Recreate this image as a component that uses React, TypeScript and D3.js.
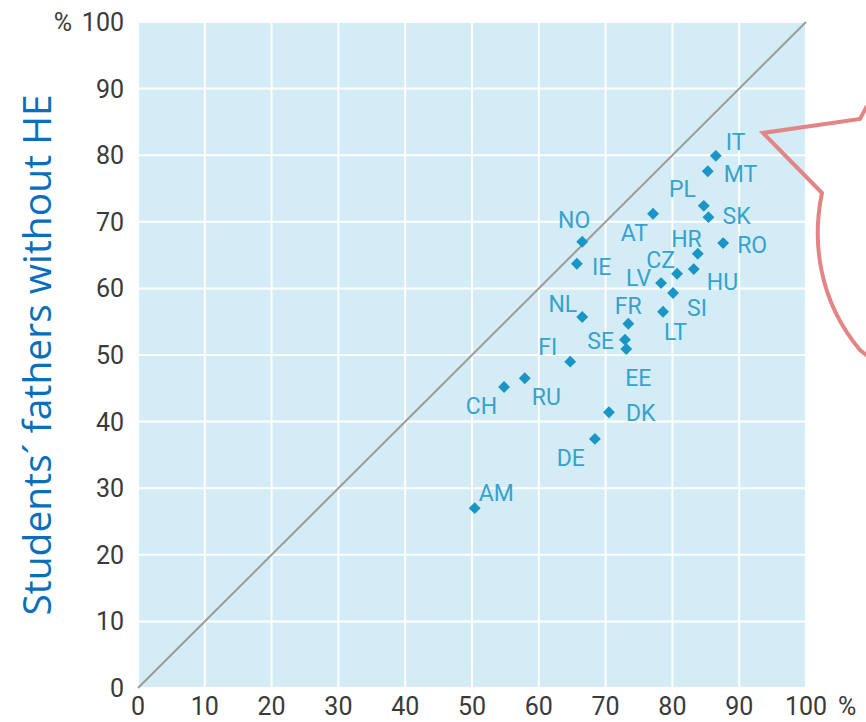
import React from "react";
import * as d3 from "d3";

const countries = ["IT","MT","PL","SK","AT","NO","RO","HR","IE","HU","CZ","LV","SI","LT","NL","FR","SE","EE","FI","RU","CH","DK","DE","AM"];
const xValues = [86.5,85.3,84.7,85.4,77.1,66.5,87.6,83.8,65.7,83.2,80.7,78.3,80.1,78.6,66.5,73.4,72.9,73.1,64.7,57.9,54.8,70.5,68.4,50.4];
const yValues = [79.9,77.6,72.4,70.7,71.2,67.0,66.8,65.2,63.7,62.9,62.2,60.8,59.3,56.5,55.7,54.7,52.3,50.9,49.0,46.5,45.2,41.4,37.4,27.0];
const ticks = [0,10,20,30,40,50,60,70,80,90,100];

// label placement (layout only)
const labelLayout: Record<string, [string, number, number]> = {
  IT: ["start", 10, -6], MT: ["start", 16, 11], PL: ["end", -8, -9], SK: ["start", 14, 7],
  AT: ["end", -5, 27], NO: ["end", 8, -14], RO: ["start", 14, 10], HR: ["end", 4, -7],
  IE: ["start", 15, 11], HU: ["start", 13, 21], CZ: ["end", -2, -6], LV: ["end", -10, 3],
  SI: ["start", 14, 23], LT: ["start", 1, 28], NL: ["end", -5, -5], FR: ["middle", 0, -10],
  SE: ["end", -11, 9], EE: ["start", -1, 37], FI: ["end", -13, -7], RU: ["start", 7, 27],
  CH: ["end", -7, 27], DK: ["start", 17, 9], DE: ["end", -10, 27], AM: ["start", 4, -7],
};

const W = 866, H = 722;
const L = 138, R = 806, T = 22, B = 688;

export default function App() {
  const x = d3.scaleLinear().domain([0, 100]).range([L, R]);
  const y = d3.scaleLinear().domain([0, 100]).range([B, T]);
  const tickFont = "Roboto, sans-serif";
  const diag = d3.line<number>().x((d) => x(d)).y((d) => y(d))([0, 100]) || "";
  const diamond = d3.symbol().type(d3.symbolDiamond2).size(90)() || "";
  const bubble = "M 867 106 L 860 119 L 763 133 L 822 193 C 812 240, 818 300, 860 350 L 870 358";
  return (
    <svg width={W} height={H} style={{ position: "absolute", left: 0, top: 0, background: "#fff" }}>
      <rect x={L} y={T} width={R - L} height={B - T} fill="#d3ecf6" />
      {ticks.map((t) => (
        <g key={t}>
          <line x1={x(t)} x2={x(t)} y1={T} y2={B} stroke="#fff" strokeWidth={2} />
          <line x1={L} x2={R} y1={y(t)} y2={y(t)} stroke="#fff" strokeWidth={2} />
        </g>
      ))}
      <path d={diag} stroke="#9a9a9a" strokeWidth={2} fill="none" />
      {ticks.map((t) => (
        <text key={"y" + t} x={124} y={y(t) + 9} textAnchor="end" fontFamily={tickFont} fontSize={25} fill="#3a3a3a">
          {t}
        </text>
      ))}
      <text x={72} y={y(100) + 9} textAnchor="end" fontFamily={tickFont} fontSize={25} fill="#3a3a3a">%</text>
      {ticks.map((t) => (
        <text key={"x" + t} x={x(t)} y={715} textAnchor="middle" fontFamily={tickFont} fontSize={25} fill="#3a3a3a">
          {t}
        </text>
      ))}
      <text x={x(100) + 32} y={715} fontFamily={tickFont} fontSize={25} fill="#3a3a3a">%</text>
      {countries.map((c, i) => {
        const [anchor, dx, dy] = labelLayout[c];
        const px = x(xValues[i]), py = y(yValues[i]);
        return (
          <g key={c}>
            <path d={diamond} transform={`translate(${px},${py})`} fill="#1a95c6" />
            <text x={px + dx} y={py + dy} textAnchor={anchor as any} fontFamily={tickFont} fontSize={23} fill="#35a3cd">
              {c}
            </text>
          </g>
        );
      })}
      <text transform={`translate(51,355) rotate(-90)`} textAnchor="middle" fontFamily="'Open Sans', 'Noto Sans', sans-serif" fontSize={39} fill="#0a6fba">
        Students´ fathers without HE
      </text>
      <path d={bubble} fill="none" stroke="#e48585" strokeWidth={4} strokeLinejoin="miter" />
    </svg>
  );
}
